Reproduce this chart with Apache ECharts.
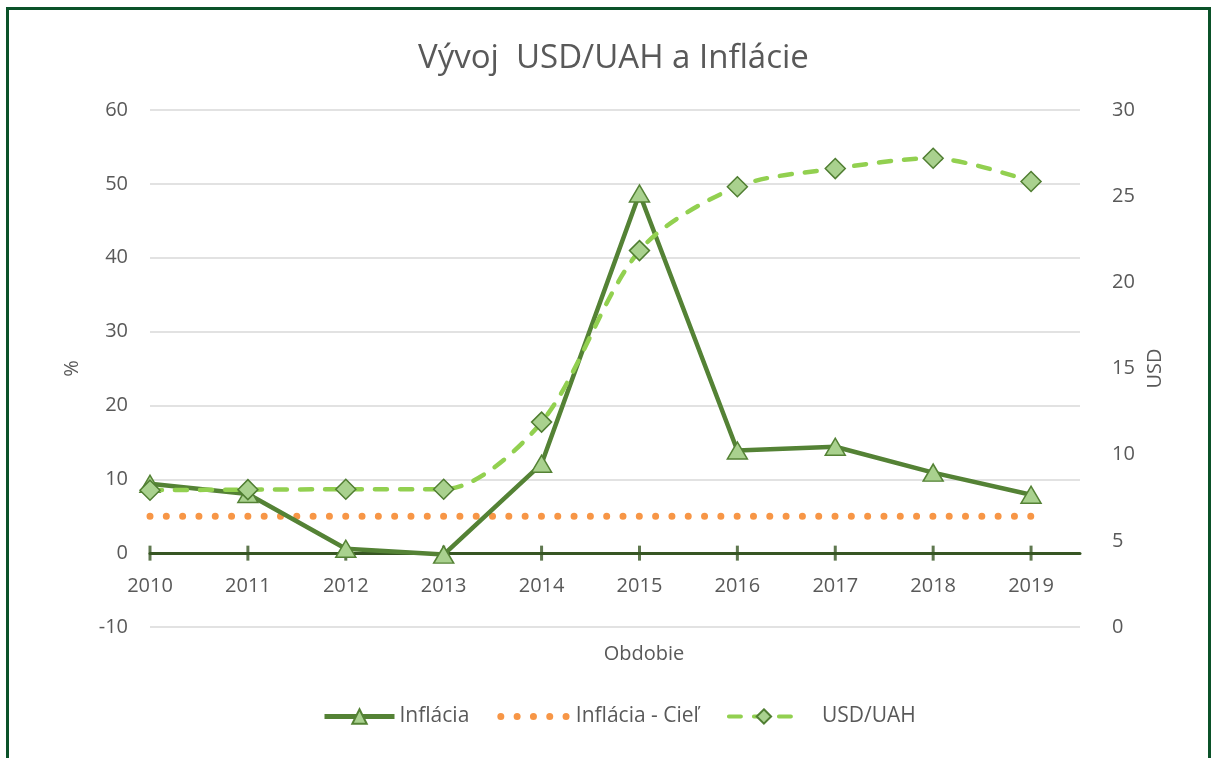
<!DOCTYPE html>
<html>
<head>
    <meta charset="utf-8">
    <title>Vývoj USD/UAH a Inflácie</title>
    <script src="https://cdn.jsdelivr.net/npm/echarts@6/dist/echarts.min.js"></script>
    <style>
        body { margin: 0; background: #fff; }
        #frame { position: absolute; left: 6px; top: 7px; width: 1199px; height: 760px;
                 border: 3px solid #0B5229; border-bottom: none; }
        #chart { position: absolute; left: 0; top: 0; width: 1211px; height: 758px; }
    </style>
</head>
<body>
    <div id="frame"></div>
    <div id="chart"></div>
    <script type="text/javascript">
        // dáta
        var roky = ['2010', '2011', '2012', '2013', '2014', '2015', '2016', '2017', '2018', '2019'];
        var inflacia = [9.4, 8.0, 0.6, -0.2, 12.1, 48.7, 13.9, 14.4, 10.9, 7.9];
        var inflaciaCiel = [5, 5, 5, 5, 5, 5, 5, 5, 5, 5];
        var usdUah = [7.94, 7.97, 7.99, 7.99, 11.89, 21.84, 25.55, 26.6, 27.2, 25.85];
        var tickyX = [0, 1, 2, 3, 4, 5, 6, 7, 8, 9];

        var myChart = echarts.init(document.getElementById('chart'));

        // x os je hodnotová (index roka), aby mriežka presahovala posledný rok
        function pary(arr) {
            return arr.map(function (v, i) { return [i, v]; });
        }

        var font = "'Open Sans', sans-serif";
        var sediva = '#595959';
        var tmavaZelena = '#375623';

        var option = {
            title: {
                text: 'Vývoj  USD/UAH a Inflácie',
                left: 413,
                top: 37,
                textStyle: { fontFamily: font, fontSize: 33, fontWeight: 'normal', color: sediva }
            },
            legend: {
                bottom: 26,
                left: 317,
                itemWidth: 70,
                itemHeight: 18,
                itemGap: 28,
                textStyle: { fontFamily: font, fontSize: 21, color: sediva },
                data: [
                    { name: 'Inflácia', lineStyle: { width: 5 } },
                    { name: 'Inflácia - Cieľ', lineStyle: { width: 7 },
                      itemStyle: { color: 'rgba(0,0,0,0)', borderWidth: 0 } },
                    { name: 'USD/UAH', lineStyle: { width: 4 }, textStyle: { padding: [0, 0, 0, 18] } }
                ]
            },
            grid: { left: 150, right: 131, top: 110, bottom: 131 },
            xAxis: {
                type: 'value',
                min: 0,
                max: 9.5,
                interval: 1,
                name: 'Obdobie',
                nameLocation: 'middle',
                nameGap: 17,
                nameTextStyle: { fontFamily: font, fontSize: 20, color: sediva, padding: [0, 0, 0, 58] },
                axisLine: { onZero: true, onZeroAxisIndex: 0, lineStyle: { color: tmavaZelena, width: 3 } },
                axisTick: { show: false },
                axisLabel: {
                    customValues: tickyX,
                    margin: -51,
                    fontFamily: font, fontSize: 20, color: sediva,
                    formatter: function (v) { return roky[v] || ''; }
                },
                splitLine: { show: false }
            },
            yAxis: [
                {
                    type: 'value',
                    min: -10,
                    max: 60,
                    interval: 10,
                    name: '%',
                    nameLocation: 'middle',
                    nameGap: 68,
                    nameTextStyle: { fontFamily: font, fontSize: 20, color: sediva },
                    axisLine: { show: false },
                    axisTick: { show: false },
                    axisLabel: { margin: 22, fontFamily: font, fontSize: 20, color: sediva },
                    splitLine: { lineStyle: { color: '#D9D9D9', width: 1.5 } }
                },
                {
                    type: 'value',
                    min: 0,
                    max: 30,
                    interval: 5,
                    name: 'USD',
                    nameLocation: 'middle',
                    nameGap: 64,
                    nameTextStyle: { fontFamily: font, fontSize: 20, color: sediva },
                    axisLine: { show: false },
                    axisTick: { show: false },
                    axisLabel: { margin: 32, fontFamily: font, fontSize: 20, color: sediva },
                    splitLine: { show: false }
                }
            ],
            series: [
                {
                    // značky osi x, ktoré pretínajú čiaru na nule
                    name: 'ticky',
                    type: 'scatter',
                    yAxisIndex: 0,
                    data: tickyX.map(function (i) { return [i, 0]; }),
                    symbol: 'rect',
                    symbolSize: [3, 15],
                    itemStyle: { color: tmavaZelena },
                    silent: true,
                    z: 1
                },
                {
                    name: 'Inflácia',
                    type: 'line',
                    yAxisIndex: 0,
                    data: pary(inflacia),
                    symbol: 'triangle',
                    symbolSize: [20, 17],
                    lineStyle: { color: '#548235', width: 4.5 },
                    itemStyle: { color: '#A9D18E', borderColor: '#548235', borderWidth: 1.5 },
                    z: 3
                },
                {
                    name: 'Inflácia - Cieľ',
                    type: 'line',
                    yAxisIndex: 0,
                    data: pary(inflaciaCiel),
                    symbol: 'none',
                    lineStyle: { color: '#F79646', width: 7, type: [0.01, 16.3], cap: 'round' },
                    itemStyle: { color: '#F79646' },
                    z: 2
                },
                {
                    name: 'USD/UAH',
                    type: 'line',
                    yAxisIndex: 1,
                    smooth: 0.3,
                    data: pary(usdUah),
                    symbol: 'diamond',
                    symbolSize: 20,
                    lineStyle: { color: '#92D050', width: 4.5, type: [12, 13], cap: 'round' },
                    itemStyle: { color: '#A9D18E', borderColor: '#507E32', borderWidth: 1.5 },
                    z: 4
                }
            ]
        };

        myChart.setOption(option);
    </script>
</body>
</html>
